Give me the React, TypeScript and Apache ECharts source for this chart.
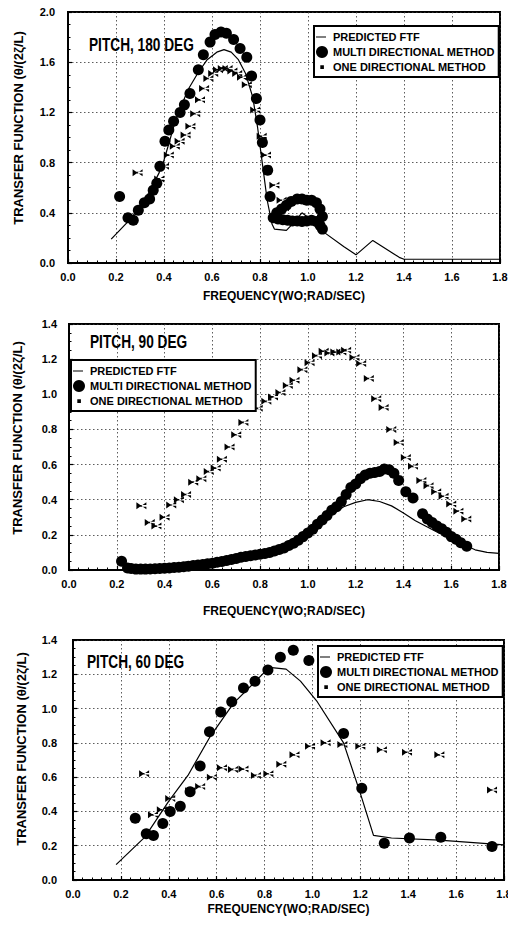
import React, { useEffect, useRef } from "react";
import * as echarts from "echarts";

const FONT = '"Liberation Sans", Arial, Helvetica, sans-serif';
const NAME_PRED = "PREDICTED FTF";
const NAME_MULTI = "MULTI DIRECTIONAL METHOD";
const NAME_ONE = "ONE DIRECTIONAL METHOD";
const PANEL_TITLES = ["PITCH, 180 DEG", "PITCH, 90 DEG", "PITCH, 60 DEG"];
const X_TITLE = "FREQUENCY(WO;RAD/SEC)";
const Y_TITLE = "TRANSFER FUNCTION (\u03B8/(2\u03B6/L)";
const X_MAX = 1.8;
const X_STEP = 0.2;
const Y_MAX = [2.0, 1.4, 1.4];
const Y_STEP = [0.4, 0.2, 0.2];

// ---------- PITCH 180 DEG ----------
const p1Pred = [
  [0.18, 0.19], [0.22, 0.27], [0.26, 0.35], [0.3, 0.45], [0.34, 0.57], [0.38, 0.72],
  [0.4, 0.82], [0.42, 0.95], [0.45, 1.15], [0.5, 1.38], [0.54, 1.51], [0.58, 1.62],
  [0.62, 1.68], [0.65, 1.7], [0.68, 1.68], [0.71, 1.62], [0.74, 1.51], [0.77, 1.32],
  [0.79, 1.08], [0.81, 0.79], [0.83, 0.5], [0.85, 0.31], [0.86, 0.27], [0.91, 0.26],
  [0.93, 0.3], [0.975, 0.4], [1.015, 0.34], [1.07, 0.24], [1.15, 0.13], [1.2, 0.065],
  [1.27, 0.18], [1.38, 0.045], [1.4, 0.03], [1.8, 0.03],
];
const p1Multi = [
  [0.215, 0.53], [0.25, 0.36], [0.272, 0.34], [0.293, 0.42], [0.318, 0.48], [0.34, 0.51],
  [0.355, 0.58], [0.37, 0.635], [0.383, 0.77], [0.404, 0.97], [0.42, 1.06], [0.44, 1.13],
  [0.467, 1.2], [0.485, 1.26], [0.508, 1.35], [0.543, 1.54], [0.564, 1.66], [0.592, 1.76],
  [0.6125, 1.82], [0.6375, 1.84], [0.66, 1.83], [0.69, 1.78], [0.717, 1.71], [0.745, 1.64],
  [0.765, 1.49], [0.785, 1.31], [0.8, 1.14], [0.81, 0.96], [0.832, 0.74], [0.842, 0.53],
  [0.855, 0.36], [0.875, 0.35], [0.895, 0.345], [0.915, 0.34], [0.935, 0.335], [0.955, 0.335],
  [0.975, 0.33], [0.995, 0.335], [1.015, 0.34], [1.035, 0.33], [1.05, 0.3], [1.06, 0.27],
  [0.87, 0.4], [0.89, 0.43], [0.91, 0.46], [0.93, 0.49], [0.955, 0.51], [0.975, 0.51],
  [0.995, 0.5], [1.015, 0.5], [1.035, 0.48], [1.05, 0.43], [1.06, 0.37],
];
const p1One = [
  [0.29, 0.72], [0.38, 0.67], [0.4, 0.77], [0.42, 0.86], [0.445, 0.93], [0.465, 0.97],
  [0.49, 1.02], [0.51, 1.09], [0.53, 1.19], [0.55, 1.3], [0.567, 1.39], [0.585, 1.47],
  [0.605, 1.51], [0.625, 1.54], [0.645, 1.55], [0.665, 1.55], [0.685, 1.53], [0.705, 1.51],
  [0.725, 1.48], [0.745, 1.42], [0.78, 1.22], [0.807, 1.01], [0.825, 0.86], [0.86, 0.62],
  [0.89, 0.5], [0.9, 0.44],
];

// ---------- PITCH 90 DEG ----------
const p2Pred = [
  [0.22, 0.0], [0.3, 0.005], [0.4, 0.01], [0.5, 0.02], [0.6, 0.033], [0.7, 0.055],
  [0.8, 0.085], [0.9, 0.13], [0.95, 0.17], [1.0, 0.22], [1.05, 0.27], [1.1, 0.315],
  [1.15, 0.36], [1.2, 0.385], [1.25, 0.4], [1.3, 0.39], [1.35, 0.365], [1.4, 0.325],
  [1.45, 0.28], [1.5, 0.245], [1.55, 0.21], [1.6, 0.18], [1.65, 0.145], [1.7, 0.115],
  [1.75, 0.1], [1.8, 0.095],
];
const p2Multi = [
  [0.22, 0.05], [0.245, 0.012], [0.26, 0.008], [0.28, 0.005], [0.3, 0.005], [0.32, 0.005],
  [0.34, 0.006], [0.36, 0.007], [0.38, 0.008], [0.4, 0.01], [0.42, 0.012], [0.44, 0.014],
  [0.46, 0.016], [0.48, 0.019], [0.5, 0.022], [0.52, 0.025], [0.54, 0.028], [0.56, 0.031],
  [0.58, 0.035], [0.6, 0.039], [0.62, 0.044], [0.64, 0.049], [0.66, 0.054], [0.68, 0.06],
  [0.7, 0.066], [0.72, 0.072], [0.74, 0.077], [0.76, 0.081], [0.78, 0.085], [0.8, 0.089],
  [0.82, 0.094], [0.84, 0.1], [0.86, 0.108], [0.88, 0.117], [0.9, 0.125], [0.92, 0.14],
  [0.94, 0.152], [0.96, 0.17], [0.98, 0.19], [1.0, 0.21], [1.02, 0.232], [1.04, 0.26],
  [1.06, 0.285], [1.08, 0.31], [1.1, 0.34], [1.12, 0.36], [1.14, 0.39], [1.16, 0.43],
  [1.18, 0.47], [1.2, 0.49], [1.22, 0.52], [1.24, 0.54], [1.26, 0.55], [1.28, 0.555],
  [1.3, 0.56], [1.32, 0.575], [1.34, 0.57], [1.36, 0.55], [1.38, 0.51], [1.41, 0.445],
  [1.44, 0.41], [1.48, 0.32], [1.5, 0.29], [1.52, 0.27], [1.54, 0.25], [1.56, 0.235],
  [1.58, 0.215], [1.6, 0.19], [1.62, 0.175], [1.64, 0.155], [1.665, 0.135],
];
const p2One = [
  [0.303, 0.365], [0.338, 0.27], [0.366, 0.25], [0.4, 0.3], [0.428, 0.37], [0.46, 0.4],
  [0.49, 0.43], [0.52, 0.5], [0.554, 0.52], [0.585, 0.56], [0.614, 0.58], [0.64, 0.63],
  [0.672, 0.7], [0.7, 0.77], [0.73, 0.84], [0.79, 0.92], [0.826, 0.96], [0.854, 0.985],
  [0.885, 1.01], [0.916, 1.05], [0.944, 1.08], [0.977, 1.14], [1.007, 1.18], [1.038, 1.22],
  [1.066, 1.245], [1.09, 1.235], [1.115, 1.24], [1.14, 1.24], [1.16, 1.25], [1.195, 1.21],
  [1.223, 1.175], [1.255, 1.09], [1.286, 0.975], [1.317, 0.925], [1.349, 0.8], [1.38, 0.725],
  [1.41, 0.64], [1.44, 0.59], [1.475, 0.51], [1.505, 0.48], [1.537, 0.445], [1.568, 0.42],
  [1.6, 0.375], [1.63, 0.335], [1.663, 0.29],
];

// ---------- PITCH 60 DEG ----------
const p3Pred = [
  [0.18, 0.09], [0.3, 0.25], [0.4, 0.46], [0.48, 0.61], [0.57, 0.83], [0.67, 1.03],
  [0.77, 1.17], [0.82, 1.24], [0.89, 1.23], [0.95, 1.16], [1.02, 1.04], [1.13, 0.8],
  [1.2, 0.505], [1.255, 0.26], [1.33, 0.245], [1.53, 0.233], [1.8, 0.205],
];
const p3Multi = [
  [0.26, 0.36], [0.306, 0.27], [0.336, 0.26], [0.375, 0.33], [0.406, 0.4], [0.448, 0.43],
  [0.489, 0.515], [0.531, 0.665], [0.57, 0.865], [0.617, 0.98], [0.663, 1.04], [0.712, 1.12],
  [0.76, 1.16], [0.814, 1.225], [0.866, 1.3], [0.92, 1.34], [0.985, 1.28], [1.13, 0.855],
  [1.206, 0.535], [1.3, 0.215], [1.405, 0.245], [1.536, 0.25], [1.75, 0.195],
];
const p3One = [
  [0.297, 0.62], [0.334, 0.38], [0.371, 0.41], [0.406, 0.475], [0.489, 0.52], [0.531, 0.545],
  [0.58, 0.6], [0.622, 0.655], [0.668, 0.645], [0.712, 0.647], [0.764, 0.61], [0.816, 0.62],
  [0.87, 0.675], [0.925, 0.73], [0.99, 0.78], [1.055, 0.8], [1.125, 0.79], [1.2, 0.78],
  [1.29, 0.76], [1.395, 0.745], [1.53, 0.73], [1.75, 0.525],
];

const PRED = [p1Pred, p2Pred, p3Pred];
const MULTI = [p1Multi, p2Multi, p3Multi];
const ONE = [p1One, p2One, p3One];

const BOWTIE = "path://M0,0 L5,3 L0,6 Z M10,0 L5,3 L10,6 Z M0,2.3 L10,2.3 L10,3.7 L0,3.7 Z";
const SMALL_SQ = "path://M0,0 L0.01,0 L0,0.01 Z M12,12 L11.99,12 L12,11.99 Z M4.3,4.3 L7.9,4.3 L7.9,7.9 L4.3,7.9 Z";
const LINE_ICON = "path://M0,0 L0.01,0 L0,0.01 Z M12,12 L11.99,12 L12,11.99 Z M0,5.4 L10,5.4 L10,6.6 L0,6.6 Z";

// layout (pixels)
const GRIDS = [
  { left: 68, top: 12, width: 432, height: 251 },
  { left: 69, top: 324, width: 430, height: 246 },
  { left: 73, top: 640, width: 431, height: 240 },
];
const LEGEND_POS = [
  { left: 314, top: 26 },
  { left: 71, top: 360 },
  { left: 318, top: 646 },
];
const TITLE_POS = [
  { x: 89, y: 45 },
  { x: 90, y: 342 },
  { x: 87, y: 662 },
];
const YTITLE_POS = [
  { x: 18, y: 128 },
  { x: 17, y: 438 },
  { x: 21, y: 749 },
];
const X_NAME_GAP = [27, 35, 23];
const Y_LABEL_MARGIN = [13, 12, 16];

export default function App() {
  const ref = useRef<HTMLDivElement>(null);
  useEffect(() => {
    if (!ref.current) return;
    const chart = echarts.init(ref.current, null, { renderer: "svg" });
    const labelStyle = { fontSize: 11, fontWeight: "bold", color: "#000", fontFamily: FONT };
    const splitLine = { show: true, lineStyle: { color: "#333", type: [1.5, 2.5], width: 0.8 } };

    const xAxis = GRIDS.map((_, i) => ({
      type: "value",
      gridIndex: i,
      min: 0,
      max: X_MAX,
      interval: X_STEP,
      axisLine: { show: true, onZero: false, lineStyle: { color: "#000", width: 2 } },
      axisTick: { show: true, inside: true, length: 4, lineStyle: { color: "#000", width: 1.2 } },
      minorTick: { show: true, splitNumber: 5, length: 2.5, lineStyle: { color: "#000", width: 1 } },
      splitLine,
      axisLabel: { ...labelStyle, margin: 8, formatter: (v: number) => v.toFixed(1) },
      name: X_TITLE,
      nameLocation: "middle",
      nameGap: X_NAME_GAP[i],
      nameTextStyle: { fontSize: 12, fontWeight: "bold", color: "#000", fontFamily: FONT },
    }));
    const yAxis = GRIDS.map((_, i) => ({
      type: "value",
      gridIndex: i,
      min: 0,
      max: Y_MAX[i],
      interval: Y_STEP[i],
      axisLine: { show: true, onZero: false, lineStyle: { color: "#000", width: 2 } },
      axisTick: { show: true, inside: true, length: 4, lineStyle: { color: "#000", width: 1.2 } },
      minorTick: { show: true, splitNumber: 4, length: 2.5, lineStyle: { color: "#000", width: 1 } },
      splitLine,
      axisLabel: { ...labelStyle, margin: Y_LABEL_MARGIN[i], formatter: (v: number) => v.toFixed(1) },
    }));

    const series: any[] = [];
    for (let i = 0; i < 3; i++) {
      series.push({
        name: NAME_PRED,
        type: "line",
        xAxisIndex: i,
        yAxisIndex: i,
        data: PRED[i],
        symbol: "none",
        lineStyle: { color: "#000", width: 1.2 },
        itemStyle: { color: "#000" },
        z: 3,
      });
      series.push({
        name: NAME_MULTI,
        type: "scatter",
        xAxisIndex: i,
        yAxisIndex: i,
        data: MULTI[i],
        symbol: "circle",
        symbolSize: 11,
        itemStyle: { color: "#000", opacity: 1 },
        z: 2,
      });
      series.push({
        name: NAME_ONE,
        type: "scatter",
        xAxisIndex: i,
        yAxisIndex: i,
        data: ONE[i],
        symbol: BOWTIE,
        symbolSize: [10, 7],
        itemStyle: { color: "#000", opacity: 1 },
        z: 2,
      });
    }

    const legend = LEGEND_POS.map((p) => ({
      show: true,
      orient: "vertical",
      left: p.left,
      top: p.top,
      selectedMode: false,
      data: [
        { name: NAME_PRED, icon: LINE_ICON },
        { name: NAME_MULTI, icon: "circle" },
        { name: NAME_ONE, icon: SMALL_SQ },
      ],
      itemWidth: 12,
      itemHeight: 12,
      itemGap: 3,
      padding: [5, 4, 4, 2],
      borderColor: "#000",
      borderWidth: 2,
      backgroundColor: "#fff",
      textStyle: { fontSize: 11, fontWeight: "bold", color: "#000", fontFamily: FONT },
      z: 10,
    }));

    const graphic: any[] = [];
    TITLE_POS.forEach((p, i) => {
      graphic.push({
        type: "text",
        x: p.x,
        y: p.y,
        scaleX: 0.76,
        z: 20,
        style: {
          text: PANEL_TITLES[i],
          fontSize: 18,
          fontWeight: "bold",
          fontFamily: FONT,
          fill: "#000",
          textAlign: "left",
          textVerticalAlign: "middle",
          textBaseline: "middle",
        },
      });
    });
    YTITLE_POS.forEach((p) => {
      graphic.push({
        type: "text",
        x: p.x,
        y: p.y,
        rotation: Math.PI / 2,
        z: 20,
        style: {
          text: Y_TITLE,
          fontSize: 13,
          fontWeight: "bold",
          fontFamily: FONT,
          fill: "#000",
          textAlign: "center",
          textVerticalAlign: "middle",
          textBaseline: "middle",
        },
      });
    });

    chart.setOption({
      animation: false,
      backgroundColor: "#fff",
      grid: GRIDS.map((g) => ({
        ...g,
        show: true,
        borderColor: "#000",
        borderWidth: 2,
        containLabel: false,
        outerBoundsMode: "none",
      })),
      xAxis,
      yAxis,
      legend,
      series,
      graphic,
    });
    return () => chart.dispose();
  }, []);
  return (
    <div
      ref={ref}
      style={{ position: "fixed", left: 0, top: 0, width: 508, height: 925, background: "#fff" }}
    />
  );
}
